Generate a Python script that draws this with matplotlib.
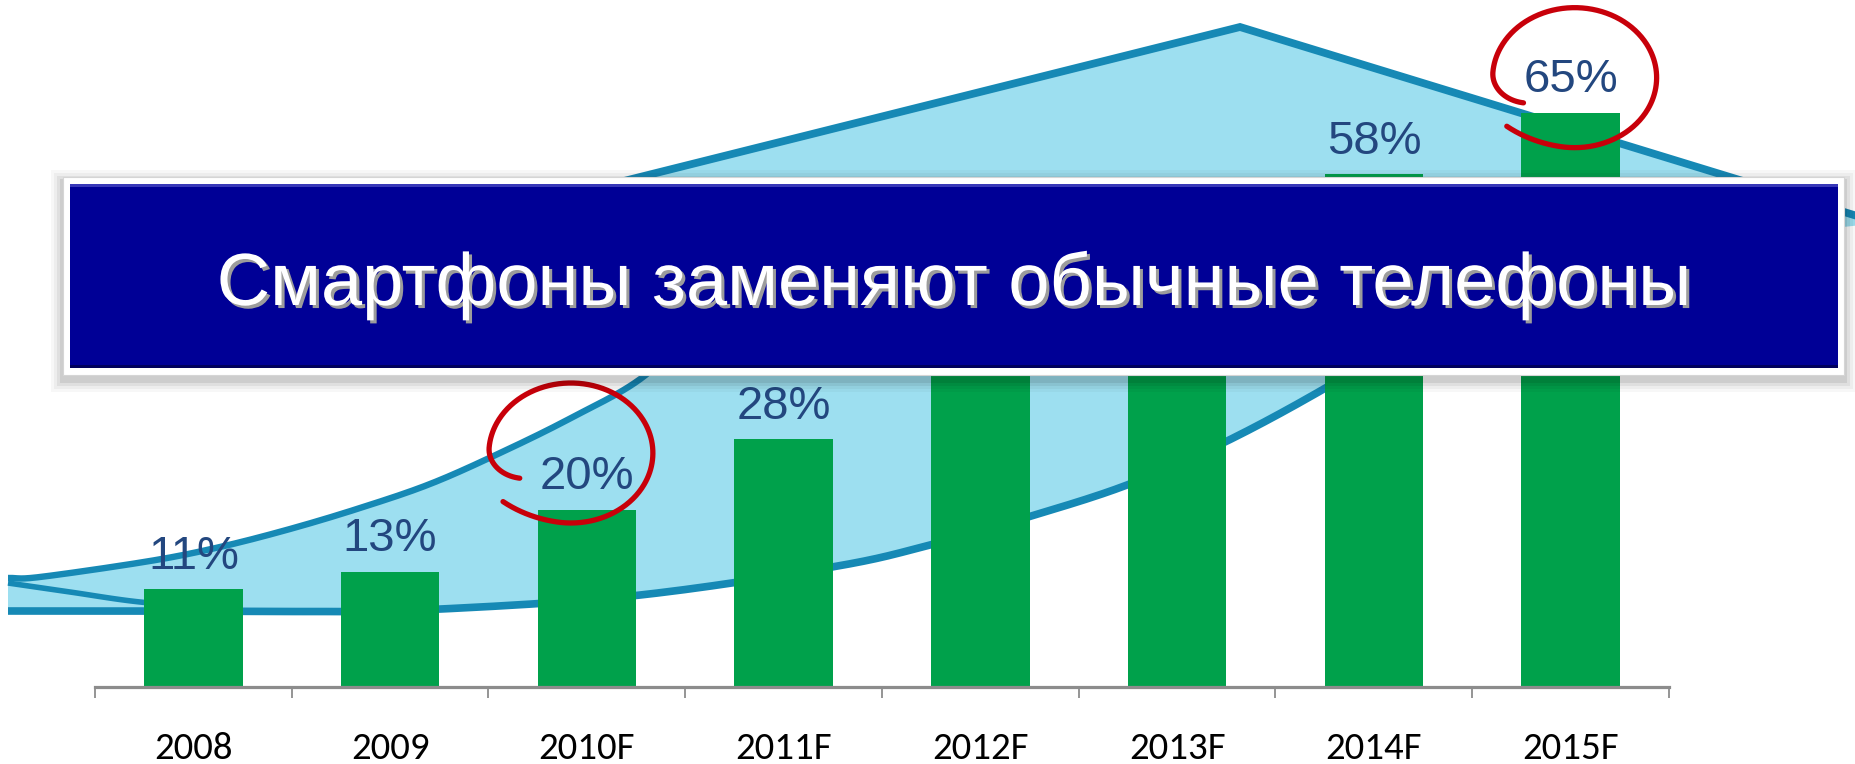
import numpy as np
import matplotlib
matplotlib.use("Agg")
import matplotlib.pyplot as plt
import matplotlib.transforms as mtransforms
import matplotlib.patheffects as pe
from matplotlib.patches import Polygon, Rectangle
from matplotlib.lines import Line2D
from matplotlib import font_manager as fm

# ---------------- data ----------------
categories = ['2008', '2009', '2010F', '2011F', '2012F', '2013F', '2014F', '2015F']
share = [11, 13, 20, 28, 38, 48, 58, 65]          # smartphone share, %
# labels of 2012F / 2013F are hidden behind the banner in the reference
value_labels = ['11%', '13%', '20%', '28%', '', '', '58%', '65%']
highlighted = ['2010F', '2015F']                   # circled in red
banner_text = 'Смартфоны заменяют обычные телефоны'

# ---------------- styles ----------------
W, H = 1856, 764
BAR_COLOR = '#00A14B'
LABEL_COLOR = '#23477F'
ARROW_FILL = '#9DDFF0'
ARROW_EDGE = '#1689B5'
BANNER_BLUE = '#000096'
RED = '#C8000A'

avail = {f.name for f in fm.fontManager.ttflist}


def pick(*names):
    for n in names:
        if n in avail:
            return n
    return 'DejaVu Sans'


sans = pick('Liberation Sans', 'Arial', 'DejaVu Sans')
tick_font = pick('Carlito', 'Lato', 'Liberation Sans')
tick_size = 28 if tick_font == 'Carlito' else 25

fig = plt.figure(figsize=(W / 100, H / 100), dpi=100)
fig.patch.set_facecolor('white')

# transform for decorative shapes given in reference pixels (y downward)
pix = mtransforms.Affine2D().scale(1.0 / W, -1.0 / H).translate(0, 1) + fig.transFigure

# ---------------- axes ----------------
axis_y = 686.6
px_per_pct = 8.83
ax = fig.add_axes([95 / W, (H - axis_y) / H, (1669 - 95) / W, axis_y / H])
ax.patch.set_visible(False)
x = np.arange(len(categories))
ax.set_xlim(-0.5, len(categories) - 0.5)
ax.set_ylim(0, axis_y / px_per_pct)

ax.bar(x, share, width=0.5, color=BAR_COLOR, zorder=2)

for xi, v, lab in zip(x, share, value_labels):
    if not lab:
        continue
    ax.annotate(lab, (xi, v), xytext=(0, 15), textcoords='offset points',
                ha='center', va='baseline', fontsize=34, color=LABEL_COLOR,
                family=sans, zorder=3)

ax.set_xticks(x)
ax.set_xticklabels(categories, fontsize=tick_size, family=tick_font, color='black')
ax.tick_params(axis='x', which='major', length=0, pad=33)
ax.set_xticks(np.arange(-0.5, len(categories)), minor=True)
ax.tick_params(axis='x', which='minor', length=8, width=1.3, color='#8C8C8C', direction='out')
ax.set_yticks([])
for s in ['left', 'right', 'top']:
    ax.spines[s].set_visible(False)
ax.spines['bottom'].set_color('#8C8C8C')
ax.spines['bottom'].set_linewidth(2.3)


# ---------------- decorative curved arrow (background) ----------------
def smooth(pts, n=24):
    p = np.asarray(pts, float)
    p = np.vstack([2 * p[0] - p[1], p, 2 * p[-1] - p[-2]])
    out = []
    t = np.linspace(0, 1, n, endpoint=False)[:, None]
    for i in range(1, len(p) - 2):
        p0, p1, p2, p3 = p[i - 1], p[i], p[i + 1], p[i + 2]
        out.append(0.5 * ((2 * p1) + (-p0 + p2) * t + (2 * p0 - 5 * p1 + 4 * p2 - p3) * t ** 2
                          + (-p0 + 3 * p1 - 3 * p2 + p3) * t ** 3))
    out.append(p[-2][None])
    return np.vstack(out)


lower_pts = [(8, 611), (140, 611), (300, 611.5), (420, 610), (631, 596), (832, 567),
             (930, 545), (1028, 517), (1127, 485), (1223, 443), (1322, 390),
             (1420, 330), (1520, 262)]
upper_pts = [(8, 578), (40, 577), (150, 561), (220, 547), (290, 529), (360, 508),
             (430, 484), (500, 453), (571, 418), (643, 377), (700, 320),
             (735, 260), (760, 200)]
apex = (1240, 27)
left_barb = (600, 187)
right_barb = (1880, 223)

lower = smooth(lower_pts)
upper = smooth(upper_pts)
poly_pts = np.vstack([lower, [right_barb, apex, left_barb], upper[::-1]])
fig.add_artist(Polygon(poly_pts, closed=True, facecolor=ARROW_FILL, edgecolor='none',
                       transform=pix, zorder=-2))
fig.add_artist(Line2D(lower[:, 0], lower[:, 1], color=ARROW_EDGE, lw=5.5,
                      solid_capstyle='butt', transform=pix, zorder=-1))
fig.add_artist(Line2D(upper[:, 0], upper[:, 1], color=ARROW_EDGE, lw=4.6,
                      solid_capstyle='butt', transform=pix, zorder=-1))
head = np.array([left_barb, apex, right_barb])
fig.add_artist(Line2D(head[:, 0], head[:, 1], color=ARROW_EDGE, lw=5.6,
                      solid_joinstyle='miter', solid_capstyle='butt', transform=pix, zorder=-1))
fold = smooth([(8, 583), (70, 592), (140, 602), (220, 608)])
fig.add_artist(Line2D(fold[:, 0], fold[:, 1], color=ARROW_EDGE, lw=4.0,
                      solid_capstyle='butt', transform=pix, zorder=-1))


# ---------------- red hand-drawn circles ----------------
def hand_loop(cx, cy, a=82, b=70):
    deg = np.linspace(220, 570, 400)
    th = np.radians(deg)
    r = np.ones_like(deg)
    r = np.where(deg < 260, 1 + 0.08 * ((260 - deg) / 40) ** 2, r)
    r = np.where(deg > 535, 1 - 0.28 * ((deg - 535) / 35) ** 2, r)
    return cx + a * r * np.cos(th), cy - b * r * np.sin(th)


circle_offsets = {'2010F': (-16, -57), '2015F': (4, -35)}
fig.canvas.draw()
for cat in highlighted:
    i = categories.index(cat)
    px, py = ax.transData.transform((x[i], share[i]))
    cx, cy = px + circle_offsets[cat][0], (H - py) + circle_offsets[cat][1]
    lx, ly = hand_loop(cx, cy)
    fig.add_artist(Line2D(lx, ly, color=RED, lw=3.8, solid_capstyle='round',
                          transform=pix, zorder=5))

# ---------------- banner ----------------
bx0, by0, bx1, by1 = 63, 177, 1844, 375
for g, a in [(12, 0.03), (9, 0.04), (6, 0.06), (3, 0.08)]:
    fig.add_artist(Rectangle((bx0 - g, by0 - g + 5), (bx1 - bx0) + 2 * g, (by1 - by0) + 2 * g,
                             facecolor='black', alpha=a, edgecolor='none',
                             transform=pix, zorder=9))
fig.add_artist(Rectangle((bx0, by0), bx1 - bx0, by1 - by0, facecolor='white',
                         edgecolor='#D5D5D5', lw=0.8, transform=pix, zorder=10))
ix0, iy0, ix1, iy1 = 70, 184, 1838, 368
fig.add_artist(Rectangle((ix0, iy0), ix1 - ix0, iy1 - iy0, facecolor=BANNER_BLUE,
                         edgecolor='none', transform=pix, zorder=11))
fig.add_artist(Rectangle((ix0, iy0), ix1 - ix0, 3, facecolor='#3838B8',
                         edgecolor='none', transform=pix, zorder=11))
fig.add_artist(Rectangle((ix0, iy1 - 3), ix1 - ix0, 3, facecolor='#00005C',
                         edgecolor='none', transform=pix, zorder=11))

tx, ty = pix.transform(((ix0 + ix1) / 2, 305))
tx, ty = fig.transFigure.inverted().transform((tx, ty))
btxt = fig.text(tx, ty, banner_text, ha='center', va='baseline', fontsize=53,
                color='white', family=sans, zorder=12,
                path_effects=[pe.SimplePatchShadow(offset=(2.2, -2.2), shadow_rgbFace='#9C9C9C', alpha=1.0),
                              pe.Normal()])
renderer = fig.canvas.get_renderer()
w = btxt.get_window_extent(renderer).width
btxt.set_fontsize(53 * 1477 / w)

fig.savefig('out.png', dpi=100, facecolor='white')
